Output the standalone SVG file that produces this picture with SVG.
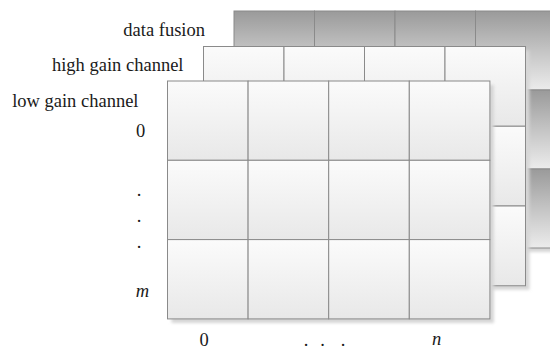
<svg xmlns="http://www.w3.org/2000/svg" width="550" height="349" viewBox="0 0 550 349">
  <defs>
    <!-- light cell shading (top bright, bottom slightly grey) -->
    <linearGradient id="gLight" x1="0" y1="0" x2="0" y2="1">
      <stop offset="0" stop-color="#fbfbfb"/>
      <stop offset="1" stop-color="#e8e8e8"/>
    </linearGradient>
    <!-- dark cell shading for the fused layer -->
    <linearGradient id="gDark" x1="0" y1="0" x2="0" y2="1">
      <stop offset="0" stop-color="#9a9a9a"/>
      <stop offset="0.5" stop-color="#c4c4c4"/>
      <stop offset="1" stop-color="#ececec"/>
    </linearGradient>
    <filter id="soft" x="-5%" y="-5%" width="110%" height="110%">
      <feGaussianBlur stdDeviation="1.6"/>
    </filter>
  </defs>
  <style>
    .cl { fill: url(#gLight); stroke: #8a8a8a; stroke-width: 1; }
    .cd { fill: url(#gDark); stroke: #8a8a8a; stroke-width: 1; }
    .shadow { fill: #d6d6d6; filter: url(#soft); }
    .t { font-family: 'Liberation Serif', 'DejaVu Serif', serif; font-size: 18.5px; fill: #1a1a1a; }
    .lbl { text-anchor: end; }
    .mid { text-anchor: middle; }
    .it { font-style: italic; }
  </style>

  <rect width="550" height="349" fill="#ffffff"/>

  <!-- data fusion layer (back) -->
  <g id="layer-data-fusion">
    <rect class="shadow" x="238" y="15" width="322" height="237"/>
    <rect class="cd" x="234" y="11" width="80.5" height="79"/>
    <rect class="cd" x="314.5" y="11" width="80.5" height="79"/>
    <rect class="cd" x="395" y="11" width="80.5" height="79"/>
    <rect class="cd" x="475.5" y="11" width="80.5" height="79"/>
    <rect class="cd" x="234" y="90" width="80.5" height="79"/>
    <rect class="cd" x="314.5" y="90" width="80.5" height="79"/>
    <rect class="cd" x="395" y="90" width="80.5" height="79"/>
    <rect class="cd" x="475.5" y="90" width="80.5" height="79"/>
    <rect class="cd" x="234" y="169" width="80.5" height="79"/>
    <rect class="cd" x="314.5" y="169" width="80.5" height="79"/>
    <rect class="cd" x="395" y="169" width="80.5" height="79"/>
    <rect class="cd" x="475.5" y="169" width="80.5" height="79"/>
  </g>

  <!-- high gain channel layer (middle) -->
  <g id="layer-high-gain">
    <rect class="shadow" x="207.5" y="50.5" width="322" height="239.25"/>
    <rect class="cl" x="203.5" y="46.5" width="80.5" height="79.75"/>
    <rect class="cl" x="284" y="46.5" width="80.5" height="79.75"/>
    <rect class="cl" x="364.5" y="46.5" width="80.5" height="79.75"/>
    <rect class="cl" x="445" y="46.5" width="80.5" height="79.75"/>
    <rect class="cl" x="203.5" y="126.25" width="80.5" height="79.75"/>
    <rect class="cl" x="284" y="126.25" width="80.5" height="79.75"/>
    <rect class="cl" x="364.5" y="126.25" width="80.5" height="79.75"/>
    <rect class="cl" x="445" y="126.25" width="80.5" height="79.75"/>
    <rect class="cl" x="203.5" y="206" width="80.5" height="79.75"/>
    <rect class="cl" x="284" y="206" width="80.5" height="79.75"/>
    <rect class="cl" x="364.5" y="206" width="80.5" height="79.75"/>
    <rect class="cl" x="445" y="206" width="80.5" height="79.75"/>
  </g>

  <!-- low gain channel layer (front) -->
  <g id="layer-low-gain">
    <rect class="shadow" x="171.5" y="85" width="322.4" height="238"/>
    <rect class="cl" x="167.5" y="81" width="80.6" height="79.3"/>
    <rect class="cl" x="248.1" y="81" width="80.6" height="79.3"/>
    <rect class="cl" x="328.7" y="81" width="80.6" height="79.3"/>
    <rect class="cl" x="409.3" y="81" width="80.6" height="79.3"/>
    <rect class="cl" x="167.5" y="160.3" width="80.6" height="79.3"/>
    <rect class="cl" x="248.1" y="160.3" width="80.6" height="79.3"/>
    <rect class="cl" x="328.7" y="160.3" width="80.6" height="79.3"/>
    <rect class="cl" x="409.3" y="160.3" width="80.6" height="79.3"/>
    <rect class="cl" x="167.5" y="239.6" width="80.6" height="79.3"/>
    <rect class="cl" x="248.1" y="239.6" width="80.6" height="79.3"/>
    <rect class="cl" x="328.7" y="239.6" width="80.6" height="79.3"/>
    <rect class="cl" x="409.3" y="239.6" width="80.6" height="79.3"/>
  </g>

  <!-- layer names -->
  <g id="layer-labels">
    <text class="t lbl" x="205" y="36">data fusion</text>
    <text class="t lbl" x="183.5" y="71">high gain channel</text>
    <text class="t lbl" x="138.5" y="106.5">low gain channel</text>
  </g>

  <!-- row index axis -->
  <g id="row-axis">
    <text class="t mid" x="140.5" y="137">0</text>
    <text class="t mid" x="139" y="196">.</text>
    <text class="t mid" x="139" y="221.5">.</text>
    <text class="t mid" x="139" y="247.5">.</text>
    <text class="t mid it" x="142.5" y="297">m</text>
  </g>

  <!-- column index axis -->
  <g id="col-axis">
    <text class="t mid" x="204" y="346">0</text>
    <text class="t mid" x="306" y="346">.</text>
    <text class="t mid" x="322.5" y="346">.</text>
    <text class="t mid" x="343" y="346">.</text>
    <text class="t mid it" x="436.5" y="345">n</text>
  </g>
</svg>
